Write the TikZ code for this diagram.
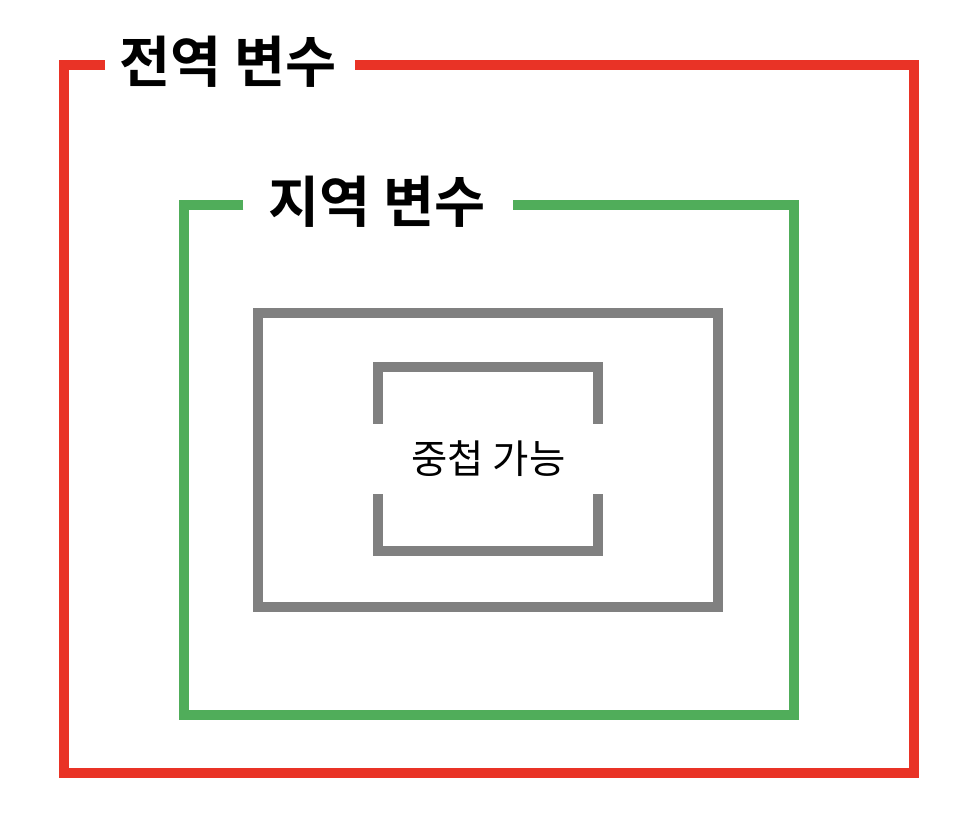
\documentclass[tikz,border=0pt]{standalone}
\usepackage{fontspec}
\newfontfamily\krfont{Noto Sans CJK KR}
\newfontfamily\krbold{Noto Sans CJK KR Bold}
\definecolor{scopered}{RGB}{233,51,38}
\definecolor{scopegreen}{RGB}{80,173,90}
\definecolor{scopegray}{RGB}{128,128,128}
\begin{document}
\begin{tikzpicture}[x=1pt,y=-1pt,
  frame/.style={line width=10pt,line join=miter,line cap=butt},
  title/.style={anchor=center,inner sep=0pt,font=\krbold\fontsize{55.5}{64}\selectfont},
  label/.style={anchor=center,inner sep=0pt,font=\krfont\fontsize{39.5}{46}\selectfont}]
\useasboundingbox (0,0) rectangle (974,828);
% global scope
\draw[frame,scopered] (105,65) -- (64,65) -- (64,772.7) -- (914,772.7) -- (914,65) -- (355,65);
\node[title] (global) at (228.3,61.5) {전역 변수};
% local scope
\draw[frame,scopegreen] (243.3,205) -- (184,205) -- (184,715) -- (794,715) -- (794,205) -- (512.7,205);
\node[title] (local) at (377,201.7) {지역 변수};
% nested blocks
\draw[frame,scopegray] (257.7,313.3) rectangle (718,606.7);
\draw[frame,scopegray] (378,423.7) -- (378,366.7) -- (598,366.7) -- (598,423.7);
\draw[frame,scopegray] (378,494) -- (378,550.7) -- (598,550.7) -- (598,494);
\node[label] (nested) at (488.3,458.3) {중첩 가능};
\end{tikzpicture}
\end{document}
